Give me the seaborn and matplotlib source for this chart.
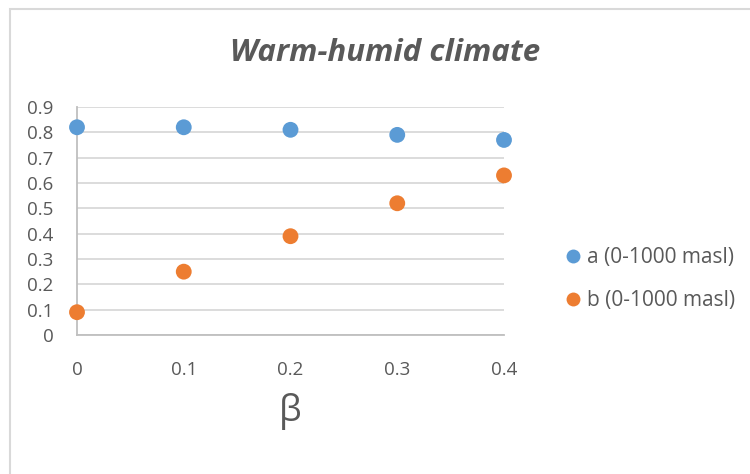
import matplotlib
matplotlib.use("Agg")
import matplotlib.pyplot as plt
import seaborn as sns
import pandas as pd
from matplotlib.patches import Rectangle
from matplotlib.lines import Line2D

beta = [0, 0.1, 0.2, 0.3, 0.4]
a_vals = [0.82, 0.82, 0.81, 0.79, 0.77]
b_vals = [0.09, 0.25, 0.39, 0.52, 0.63]
series_names = ["a (0-1000 masl)", "b (0-1000 masl)"]
colors = ["#5B9BD5", "#ED7D31"]
x_ticks = [0, 0.1, 0.2, 0.3, 0.4]
x_tick_labels = ["0", "0.1", "0.2", "0.3", "0.4"]
y_ticks = [0, 0.1, 0.2, 0.3, 0.4, 0.5, 0.6, 0.7, 0.8, 0.9]
y_tick_labels = ["0", "0.1", "0.2", "0.3", "0.4", "0.5", "0.6", "0.7", "0.8", "0.9"]

df = pd.DataFrame({
    "beta": beta * 2,
    "value": a_vals + b_vals,
    "series": [series_names[0]] * len(beta) + [series_names[1]] * len(beta),
})

sns.set_style("white")
plt.rcParams["font.family"] = ["Open Sans", "DejaVu Sans"]

fig = plt.figure(figsize=(7.5, 4.74), dpi=100)
ax = fig.add_axes([77 / 750, 1 - 335 / 474, (504 - 77) / 750, (335 - 107) / 474])

sns.scatterplot(data=df, x="beta", y="value", hue="series", palette=colors,
                s=130, edgecolor="none", ax=ax, legend=False, clip_on=False, zorder=3)

ax.set_xlim(0, 0.4)
ax.set_ylim(0, 0.9)
ax.set_xticks(x_ticks)
ax.set_xticklabels(x_tick_labels)
ax.set_yticks(y_ticks)
ax.set_yticklabels(y_tick_labels)
ax.yaxis.grid(True, color="#d9d9d9", linewidth=1.3)
ax.xaxis.grid(False)
for s in ["top", "right"]:
    ax.spines[s].set_visible(False)
for s in ["left", "bottom"]:
    ax.spines[s].set_color("#bfbfbf")
    ax.spines[s].set_linewidth(1.3)
ax.tick_params(axis="x", length=0, pad=19, labelsize=13.5, labelcolor="#595959")
ax.tick_params(axis="y", length=0, pad=17, labelsize=13.5, labelcolor="#595959")
ax.set_xlabel("β", fontsize=26, color="#595959", labelpad=10)
ax.set_ylabel("")

fig.text(385 / 750, 1 - 53 / 474, "Warm-humid climate", ha="center", va="center",
         fontsize=22.5, fontweight="bold", fontstyle="italic", color="#595959")

handles = [Line2D([0], [0], marker="o", linestyle="none", markersize=10,
                  markerfacecolor=c, markeredgecolor="none") for c in colors]
fig.legend(handles, series_names, loc="center left",
           bbox_to_anchor=(542 / 750, 1 - 279 / 474), frameon=False,
           fontsize=15, labelcolor="#595959", handletextpad=0.05,
           labelspacing=1.05, handlelength=1.2)

fig.add_artist(Rectangle((10 / 750, -0.01), 1.0, 1 - 9 / 474 + 0.01,
                         transform=fig.transFigure, fill=False,
                         edgecolor="#d9d9d9", linewidth=1.5))

fig.savefig("out.png", dpi=100)
